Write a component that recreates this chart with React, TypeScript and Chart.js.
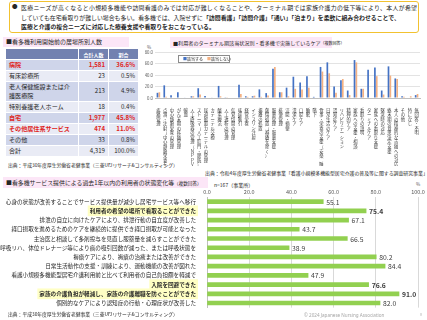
import React, { useEffect, useRef } from 'react';
import { Chart, registerables } from 'chart.js';
Chart.register(...registerables);

const FONT = "'Noto Sans CJK JP', 'Noto Sans', sans-serif";

// ---- Table data ----
const placeLabels = ['病院', '有床診療所', '老人保健施設または介護医療院', '特別養護老人ホーム', '自宅', 'その他居住系サービス', 'その他', '合計'];
const placeCounts = ['1,581', '23', '213', '18', '1,977', '474', '33', '4,319'];
const placeShares = ['36.6%', '0.5%', '4.9%', '0.4%', '45.8%', '11.0%', '0.8%', '100.0%'];
const placeRed = [true, false, false, false, true, true, false, false];

// ---- Care by terminal status ----
const careLabels = [
  '疼痛管理', '点滴・注射（中心静脈栄養を含む）', '中心静脈栄養の管理', 'がん末期の疼痛管理', '輸血',
  '人工呼吸器の管理（ＮＰＰＶを含む）', 'ストーマ（人工肛門・膀胱）の管理', '尿道留置カテーテルの管理', 'カテーテル交換', '酸素療法',
  '人工透析の管理', '気管切開の管理', '喀痰吸引', '経管栄養', 'インスリン注射',
  '褥瘡の処置', '創傷処置（褥瘡を除く）', '服薬管理・服薬支援', '排便管理', '浣腸・摘便',
  '清潔ケア', '口腔ケア', '睡眠', '嚥下', '食事・栄養の支援（安楽、睡眠、清潔を除く）',
  '日常生活のケア', '認知症ケア', 'リハビリテーション', '精神的ケア', '家族への支援・相談',
  '看取りの説明', 'ターミナルケア', '家族への看取り支援', '緊急時の対応', '終末期の意思決定支援',
  '本人の精神的な苦痛への対応', 'その他', '特になし', '無回答・不明'
];
const careTerminal = [9, 22, 5, 10, 1, 3, 17, 3.5, 1, 21, 0.5, 0, 23, 3, 3, 15, 8.5, 51, 10, 18, 37, 27, 38, 2, 54, 62, 20, 31, 13, 66, 16, 49, 53, 13, 55, 34, 3, 0, 5];
const careNonTerminal = [10, 2, 1, 0, 0, 3, 6, 1, 0, 3, 0.5, 0, 7, 2, 4, 2, 4.5, 54, 10, 3, 16, 15, 18, 0, 46, 43, 9, 33, 5, 62, 16, 0, 38, 6, 39, 33, 2, 3, 7];
const careTicks = [0, 20, 40, 60, 80];

// ---- Outcomes ----
const outcomeLabels = [
  '心身の状態が改善することでサービス提供量が減少し居宅サービス等へ移行',
  '利用者の希望の場所で看取ることができた',
  '排泄の自立に向けたケアにより、排泄行動の自立度が改善した',
  '経口摂取を進めるためのケアを継続的に提供でき経口摂取が可能となった',
  '主治医と相談して多剤投与を見直し服薬量を減らすことができた',
  '呼吸リハ、体位ドレナージ等により痰の吸引回数が減った、または呼吸状態を',
  '褥瘡ケアにより、褥瘡の治癒または改善ができた',
  '日常生活動作の支援・訓練により、運動機能の改善が図れた',
  '看護小規模多機能型居宅介護利用前と比べて利用者の自己負担額を軽減で',
  '入院を回避できた',
  '家族の介護負担が軽減し、家族の介護離職を防ぐことができた',
  '個別的なケアにより認知症の行動・心理症状が改善した'
];
const outcomeValues = [55.1, 75.4, 67.1, 43.7, 66.5, 38.9, 80.2, 84.4, 47.9, 76.6, 91.0, 82.0];
const outcomeBold = [false, true, false, false, false, false, false, false, false, true, true, false];

const valueLabelPlugin = {
  id: 'valueLabels',
  afterDatasetsDraw(chart: any) {
    const ctx = chart.ctx;
    const meta = chart.getDatasetMeta(0);
    ctx.save();
    ctx.textBaseline = 'middle';
    ctx.textAlign = 'left';
    ctx.fillStyle = '#404040';
    meta.data.forEach((bar: any, i: number) => {
      ctx.font = `${outcomeBold[i] ? 'bold ' : ''}6.8px ${FONT}`;
      ctx.fillText(outcomeValues[i].toFixed(1), bar.x + 3, bar.y + 0.5);
    });
    ctx.restore();
  }
};

function CareChart() {
  const ref = useRef<HTMLCanvasElement>(null);
  useEffect(() => {
    const chart = new Chart(ref.current!, {
      type: 'bar',
      data: {
        labels: careLabels.map((l) => Array.from(l)),
        datasets: [
          { label: '該当する', data: careTerminal, backgroundColor: '#4472C4', categoryPercentage: 0.55, barPercentage: 0.9 },
          { label: '該当しない', data: careNonTerminal, backgroundColor: '#F4B183', categoryPercentage: 0.55, barPercentage: 0.9 }
        ]
      },
      options: {
        animation: false,
        responsive: false,
        maintainAspectRatio: false,
        layout: { padding: { top: 8, right: 7, left: 0, bottom: 0 } },
        plugins: { legend: { display: false }, tooltip: { enabled: false } },
        scales: {
          x: {
            grid: { display: false },
            border: { color: '#BFBFBF' },
            ticks: { autoSkip: false, maxRotation: 0, minRotation: 0, padding: 2, color: '#404040', font: { size: 4.3, family: FONT, lineHeight: 1.05 } },
            afterFit: (s: any) => { s.height = 68; }
          },
          y: {
            min: careTicks[0],
            max: careTicks[careTicks.length - 1],
            ticks: { stepSize: 20, padding: 2, color: '#595959', font: { size: 4.3, family: FONT }, callback: (v: any) => Number(v).toFixed(1) },
            grid: { color: '#E3E3E3', drawTicks: false },
            border: { display: false },
            afterFit: (s: any) => { s.width = 10; }
          }
        }
      }
    });
    return () => chart.destroy();
  }, []);
  return <canvas ref={ref} width={282} height={122} style={{ position: 'absolute', left: 145, top: 44, width: 282, height: 122 }} />;
}

function OutcomeChart() {
  const ref = useRef<HTMLCanvasElement>(null);
  useEffect(() => {
    const chart = new Chart(ref.current!, {
      type: 'bar',
      data: {
        labels: outcomeLabels,
        datasets: [{ data: outcomeValues, backgroundColor: '#92D050', barThickness: 4 }]
      },
      options: {
        indexAxis: 'y',
        animation: false,
        responsive: false,
        maintainAspectRatio: false,
        layout: { padding: { right: 9, left: 0, top: 0, bottom: 0 } },
        plugins: { legend: { display: false }, tooltip: { enabled: false } },
        scales: {
          x: {
            position: 'top',
            min: 0,
            max: 100,
            ticks: { stepSize: 20, padding: 2, color: '#595959', font: { size: 5.5, family: FONT }, callback: (v: any) => Number(v).toFixed(1) },
            grid: { color: '#D9D9D9', drawTicks: false },
            border: { display: false },
            afterFit: (s: any) => { s.height = 17; }
          },
          y: {
            ticks: {
              autoSkip: false,
              padding: 3,
              color: '#262626',
              font: (c: any) => ({ size: 5.6, family: FONT, weight: outcomeBold[c.index] ? 'bold' : 'normal' }),
              showLabelBackdrop: true,
              backdropColor: (c: any) => (outcomeBold[c.index] ? '#FFFFC4' : 'rgba(0,0,0,0)'),
              backdropPadding: { top: 2, bottom: 2, left: 2, right: 2 }
            },
            grid: { display: false },
            border: { color: '#BFBFBF' },
            afterFit: (s: any) => { s.width = 207; }
          }
        }
      },
      plugins: [valueLabelPlugin]
    });
    return () => chart.destroy();
  }, []);
  return <canvas ref={ref} width={427} height={134} style={{ position: 'absolute', left: 0, top: 180, width: 427, height: 134 }} />;
}

const pink = '#FCE6F7';
const abs = (l: number, t: number, extra: any = {}) => ({ position: 'absolute' as const, left: l, top: t, whiteSpace: 'nowrap' as const, ...extra });

export default function App() {
  const rowBg = (i: number) => (i % 2 === 0 ? '#CFD5EA' : '#E9EBF5');
  return (
    <div style={{ position: 'absolute', left: 0, top: 0, width: 427, height: 320, background: '#fff', overflow: 'hidden', fontFamily: FONT, color: '#262626' }}>
      {/* Top note box */}
      <div style={{ position: 'absolute', left: 9, top: 1, width: 410, height: 32, border: '1px solid #F2C230', borderRadius: 3, boxSizing: 'border-box' }} />
      <div style={abs(12, 3, { fontSize: 5.5, lineHeight: '9.5px' })}>●</div>
      <div style={{ position: 'absolute', left: 21, top: 3, width: 396, fontSize: 5.9, lineHeight: '9.5px' }}>
        <div style={{ textAlign: 'justify', textAlignLast: 'justify', whiteSpace: 'nowrap' }}>医療ニーズが高くなると小規模多機能や訪問看護のみでは対応が難しくなることや、ターミナル期では家族介護力の低下等により、本人が希望</div>
        <div style={{ whiteSpace: 'nowrap' }}>していても在宅看取りが難しい場合も多い。看多機では、入院せずに<b>「訪問看護」「訪問介護」「通い」「泊まり」を柔軟に組み合わせることで、</b></div>
        <div style={{ whiteSpace: 'nowrap', fontWeight: 'bold' }}>医療と介護の複合ニーズに対応した療養支援や看取りをおこなっている。</div>
      </div>

      {/* Left panel */}
      <div style={abs(3, 37, { width: 126, height: 10, background: pink, fontSize: 6, lineHeight: '10px', paddingLeft: 3, boxSizing: 'border-box' })}>■看多機利用開始前の居場所別人数</div>
      <table style={{ position: 'absolute', left: 5, top: 48, width: 133, borderCollapse: 'collapse', fontSize: 6.1, tableLayout: 'fixed' }}>
        <colgroup>
          <col style={{ width: 73 }} />
          <col style={{ width: 30 }} />
          <col style={{ width: 30 }} />
        </colgroup>
        <thead>
          <tr style={{ height: 11, background: '#7281B0', color: '#fff' }}>
            <th style={{ border: '1px solid #fff', padding: 0 }}></th>
            <th style={{ border: '1px solid #fff', padding: 0, fontSize: 5, fontWeight: 'bold' }}>合計人数</th>
            <th style={{ border: '1px solid #fff', padding: 0, fontSize: 5, fontWeight: 'bold' }}>割合</th>
          </tr>
        </thead>
        <tbody>
          {placeLabels.map((l, i) => {
            const st = { border: '1px solid #fff', padding: '0 3px', color: placeRed[i] ? '#E0241B' : '#262626', fontWeight: placeRed[i] ? 'bold' : 'normal', lineHeight: '8.5px', verticalAlign: 'middle' } as any;
            return (
              <tr key={i} style={{ height: i === 2 ? 20 : 11, background: rowBg(i) }}>
                <td style={{ ...st, textAlign: 'left' }}>{l}</td>
                <td style={{ ...st, textAlign: 'right' }}>{placeCounts[i]}</td>
                <td style={{ ...st, textAlign: 'right' }}>{placeShares[i]}</td>
              </tr>
            );
          })}
        </tbody>
      </table>
      <div style={abs(8, 161, { fontSize: 4.8 })}>出典：平成30年度厚生労働省老健事業（三菱UFJリサーチ&amp;コンサルティング）</div>

      {/* Top right panel */}
      <div style={abs(170, 37, { width: 162, height: 11, background: pink, fontSize: 5.1, lineHeight: '11px', paddingLeft: 3, boxSizing: 'border-box' })}>■利用者のターミナル期該当状況別・看多機で実施しているケア<span style={{ fontSize: 4 }}>（複数回答）</span></div>
      <div style={abs(147, 44, { fontSize: 4.5, color: '#595959' })}>%</div>
      <CareChart />
      <div style={abs(178, 55, { width: 52, height: 8, border: '0.8px solid #8C8C8C', background: '#fff', fontSize: 4, lineHeight: '7px', boxSizing: 'border-box', paddingLeft: 4 })}>
        <span style={{ color: '#4472C4' }}>■</span>該当する　<span style={{ color: '#F4B183' }}>■</span>該当しない
      </div>
      <div style={abs(205, 169, { fontSize: 4.9 })}>出典：令和4年度厚生労働省老健事業「看護小規模多機能型居宅介護の普及等に関する調査研究事業」</div>

      {/* Bottom panel */}
      <div style={abs(3, 177, { width: 205, height: 11, background: pink, fontSize: 5.9, lineHeight: '11px', paddingLeft: 3, boxSizing: 'border-box' })}>■看多機サービス提供による過去1年以内の利用者の状態変化等<span style={{ fontSize: 4.6 }}>（複数回答）</span></div>
      <div style={abs(214, 181, { fontSize: 5 })}>n=167（事業所）</div>
      <div style={abs(416, 181, { fontSize: 4.6, color: '#595959' })}>%</div>
      <OutcomeChart />
      <div style={abs(8, 310, { fontSize: 4.8 })}>出典：平成30年度厚生労働省老健事業（三菱UFJリサーチ&amp;コンサルティング）</div>
      <div style={abs(304, 312, { fontSize: 4.6, color: '#A6A6A6', fontFamily: "'Noto Sans', sans-serif" })}>© 2024 Japanese Nursing Association</div>
      <div style={abs(420, 312, { fontSize: 3.5, color: '#A6A6A6' })}>8</div>
    </div>
  );
}
